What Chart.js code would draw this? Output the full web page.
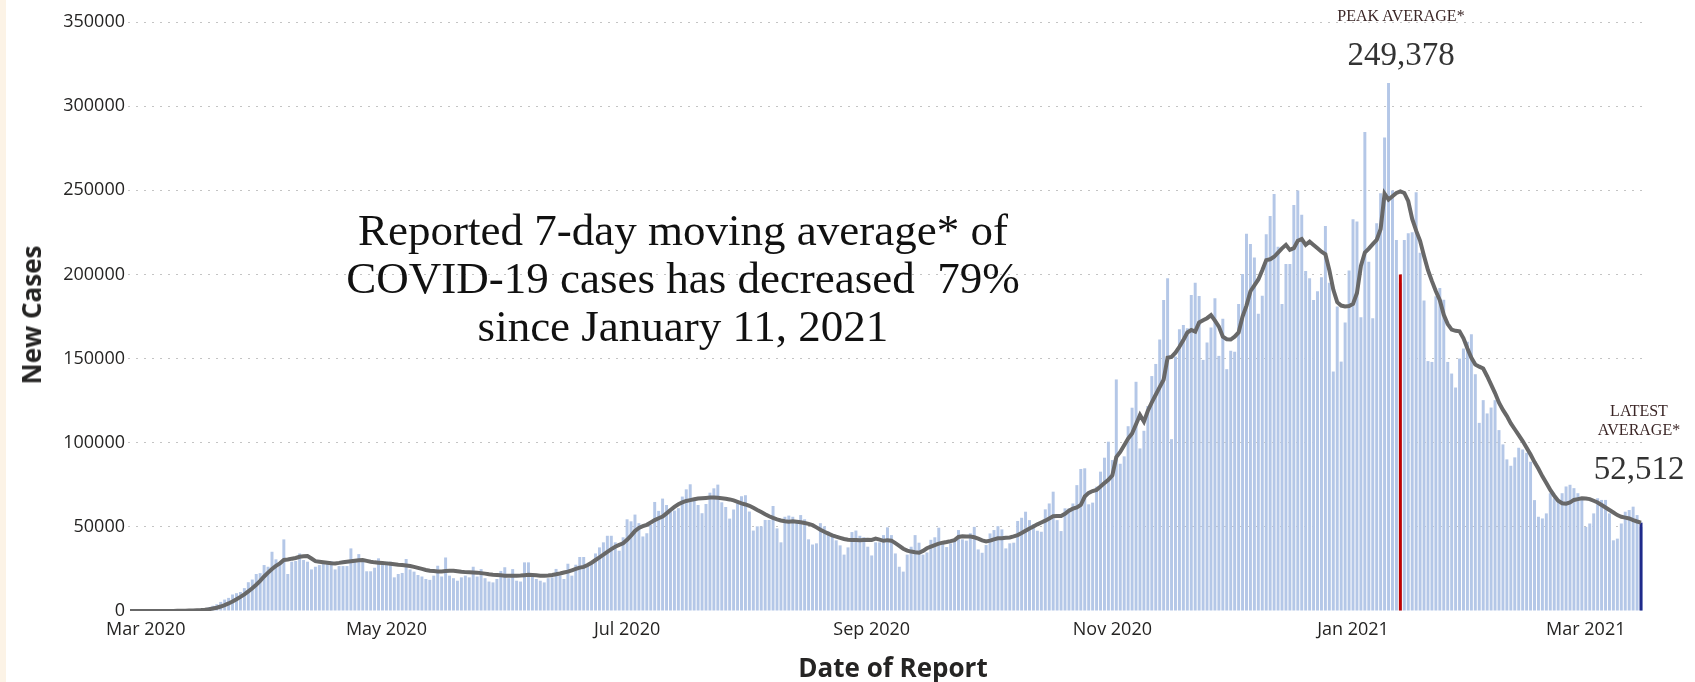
<!DOCTYPE html>
<html>
<head>
<meta charset="utf-8">
<title>COVID-19 new cases</title>
<script src="https://cdn.jsdelivr.net/npm/chart.js@4.4.1/dist/chart.umd.min.js"></script>
<style>
  html, body { margin: 0; padding: 0; background: #fff; }
  #wrap { position: relative; width: 1695px; height: 682px; overflow: hidden; }
  #chart { position: absolute; left: 0; top: 0; }
  #strip { position: absolute; left: 0; top: 0; width: 6px; height: 682px; background: #fcf3e6; }
  .note { position: absolute; font-family: "Liberation Serif", serif; white-space: nowrap;
          transform: translateX(-50%); text-align: center; }
  #headline { left: 683px; top: 206px; font-size: 45px; line-height: 48px; color: #111; }
  #peakLabel { left: 1401px; top: 8px; font-size: 16px; line-height: 16px; color: #3b2626; }
  #peakValue { left: 1401px; top: 38px; font-size: 33px; line-height: 32px; color: #333; }
  #latestLabel { left: 1639px; top: 401px; font-size: 16px; line-height: 19px; color: #3b2626; }
  #latestValue { left: 1639px; top: 452px; font-size: 33px; line-height: 32px; color: #333; }
  .axisTitle { position: absolute; font-family: "Open Sans", "Noto Sans", sans-serif; font-weight: bold;
               font-size: 26px; line-height: 30px; color: #252423; white-space: nowrap; }
  #xTitle { left: 893px; top: 652px; transform: translateX(-50%); }
  #yTitle { left: 31px; top: 315px; transform: translate(-50%, -50%) rotate(-90deg); }
</style>
</head>
<body>
<div id="wrap">
  <canvas id="chart" width="1695" height="682"></canvas>
  <div id="strip"></div>
  <div class="note" id="headline">Reported 7-day moving average* of<br>COVID-19 cases has decreased&nbsp; 79%<br>since January 11, 2021</div>
  <div class="note" id="peakLabel">PEAK AVERAGE*</div>
  <div class="note" id="peakValue">249,378</div>
  <div class="note" id="latestLabel">LATEST<br>AVERAGE*</div>
  <div class="note" id="latestValue">52,512</div>
  <div class="axisTitle" id="xTitle">Date of Report</div>
  <div class="axisTitle" id="yTitle">New Cases</div>
</div>
<script>
// ==============================
// Data (one value per day of report, starting Feb 26, 2020)
// ==============================

const startDate = "2020-02-26";

const dailyCases = [
  // 0-29
  0, 0, 0, 0, 10, 20, 30, 35, 50, 80,
  120, 160, 250, 350, 480, 600, 780, 1100, 1300, 1700,
  2300, 3100, 4000, 5400, 6800, 7800, 9800, 10600, 11300, 13600,
  // 30-59
  17100, 18700, 22000, 22500, 27300, 26300, 35200, 30700, 28700, 42550,
  22000, 29300, 29700, 34200, 30300, 29300, 24700, 26300, 27300, 29700,
  29300, 29700, 24700, 26700, 26700, 26700, 37200, 29300, 33800, 30300,
  // 60-89
  23600, 23600, 25700, 31300, 29300, 29300, 29300, 20000, 22000, 22600,
  30900, 24700, 23400, 21400, 20500, 19000, 18500, 21000, 26900, 20500,
  31800, 21000, 19500, 18000, 20000, 21000, 20000, 26300, 20500, 24900,
  // 90-119
  19500, 17500, 17000, 19000, 23800, 26000, 19500, 24900, 18000, 17500,
  28900, 28900, 20500, 19000, 18000, 17000, 19500, 20000, 25000, 21000,
  19000, 28100, 21000, 27500, 32100, 32100, 27500, 29300, 34200, 37800,
  // 120-149
  40800, 44700, 44700, 40800, 35800, 43800, 54500, 53300, 57300, 52200,
  44300, 46200, 51200, 64800, 59500, 66800, 63000, 59100, 59700, 61100,
  68000, 72300, 75300, 66000, 63000, 58100, 63600, 70300, 72900, 75100,
  // 150-179
  64600, 61800, 54900, 60300, 64000, 68200, 68800, 59100, 47800, 50300,
  50300, 54100, 54100, 62400, 49100, 40800, 56000, 56700, 56000, 53100,
  57000, 54500, 42600, 39500, 40200, 52200, 50300, 47300, 44300, 42000,
  // 180-209
  39000, 33500, 37800, 46900, 47800, 44700, 43800, 38200, 33000, 40800,
  40800, 45100, 49700, 45100, 34200, 26300, 23400, 33500, 38200, 45100,
  40600, 33500, 34800, 42300, 43800, 49500, 39700, 38000, 40200, 41800,
  // 210-239
  48100, 42600, 41800, 46200, 50000, 36600, 34600, 39200, 46100, 48100,
  50400, 48500, 37200, 40200, 40600, 53500, 55400, 59000, 54000, 51600,
  47700, 47100, 60400, 63900, 70900, 54000, 47500, 61000, 61000, 63900,
  // 240-269
  74800, 84400, 84800, 63400, 64400, 73900, 82800, 91100, 100600, 89700,
  137600, 87500, 91900, 109800, 120800, 136200, 96600, 107100, 121800, 139600,
  146800, 161400, 184800, 197700, 102100, 151200, 167400, 170000, 168000, 187800,
  // 270-299
  195100, 187200, 149200, 159500, 168400, 185800, 151600, 173600, 143700, 154600,
  154000, 182500, 200300, 224100, 218100, 210000, 176600, 187400, 223900, 234700,
  247800, 216500, 182500, 206200, 206200, 241300, 249800, 235400, 202100, 197700,
  // 300-329
  184800, 190000, 198300, 228800, 195100, 142300, 180900, 148200, 171400, 202300,
  232800, 231400, 174600, 284700, 207600, 174000, 230400, 248200, 281400, 313800,
  249800, 220500, 195000, 220500, 224500, 225100, 248800, 212900, 184500, 148500,
  // 330-359
  148000, 187000, 192000, 185000, 148000, 141100, 132800, 150000, 156000, 160000,
  164500, 140700, 111800, 125300, 117400, 120900, 125300, 107500, 99000, 90100,
  86300, 91300, 97000, 96000, 94000, 88700, 65900, 56000, 55000, 58000,
  // 360-383
  70000, 67000, 66000, 70000, 74000, 75000, 73000, 70000, 66000, 50000,
  52000, 58000, 67000, 66000, 66000, 58000, 42000, 43000, 52000, 59000,
  60000, 62000, 57000, 50000
];

const movingAverage = [
  // 0-29
  0, 0, 0, 0, 2, 5, 8, 12, 18, 28,
  42, 60, 85, 120, 170, 230, 310, 420, 560, 760,
  1050, 1450, 1950, 2650, 3500, 4500, 5700, 7000, 8400, 9900,
  // 30-59
  11700, 13500, 15600, 17900, 20500, 22800, 25000, 26800, 28300, 30300,
  30600, 31100, 31500, 32200, 32500, 32700, 31200, 29600, 29300, 29000,
  28700, 28400, 28300, 28600, 29000, 29300, 29600, 29900, 30200, 30300,
  // 60-89
  29800, 29300, 28900, 28700, 28500, 28300, 28100, 27800, 27500, 27300,
  27000, 26700, 26200, 25600, 25000, 24400, 23900, 23700, 23500, 23500,
  23700, 23900, 23900, 23600, 23300, 23100, 23000, 22900, 22800, 22500,
  // 90-119
  22200, 21800, 21500, 21400, 21200, 21000, 20900, 20900, 21000, 21100,
  21300, 21500, 21400, 21200, 21000, 20900, 21100, 21400, 21800, 22300,
  22900, 23400, 24200, 25000, 25800, 26200, 27300, 28700, 30300, 31900,
  // 120-149
  33500, 35200, 36800, 38200, 39300, 40200, 42300, 44800, 47500, 49400,
  50400, 51200, 52600, 54000, 55100, 56100, 58000, 60000, 61900, 63400,
  64500, 65400, 65900, 66400, 66800, 67000, 67200, 67400, 67500, 67300,
  // 150-179
  67000, 66700, 66300, 65700, 64900, 64000, 63300, 62500, 61300, 60000,
  58800, 57500, 56300, 55300, 54400, 53800, 53300, 53100, 53300, 53000,
  52700, 52300, 51800, 51000, 49700, 48300, 47100, 46000, 45000, 44200,
  // 180-209
  43500, 42800, 42300, 42200, 42200, 42100, 42200, 42300, 42200, 43000,
  42400, 41700, 42100, 41800, 40300, 38700, 37000, 35900, 35300, 34900,
  34600, 35700, 37300, 38300, 39200, 40000, 40600, 41000, 41500, 42100,
  // 210-239
  44000, 44400, 44300, 44200, 43800, 43000, 42000, 41300, 41800, 42600,
  43200, 43300, 43500, 43700, 44300, 45100, 46300, 47700, 49000, 50200,
  51500, 52600, 53700, 55000, 56300, 56400, 56500, 57800, 59600, 60800,
  // 240-269
  61500, 63000, 68000, 70200, 71300, 72000, 74000, 76000, 78000, 80600,
  91500, 94500, 98500, 102500, 105500, 111000, 116500, 112500, 119000, 124000,
  128500, 133000, 137500, 150500, 151000, 153500, 157000, 161000, 165500, 167000,
  // 270-299
  166000, 171500, 172800, 174000, 175800, 172500, 169000, 163000, 161500, 161300,
  163000, 165500, 175000, 181500, 190000, 193500, 197000, 202500, 208500, 209000,
  210500, 213000, 215500, 217600, 214600, 215600, 220000, 221000, 217600, 219500,
  // 300-329
  217500, 215500, 213500, 212000, 202500, 191000, 183500, 181500, 181000, 181200,
  182500, 189000, 205000, 213000, 215300, 218000, 220500, 227000, 248000, 244500,
  246500, 248400, 249378, 248400, 243500, 233000, 226000, 220000, 211000, 202500,
  // 330-359
  196000, 190000, 184700, 176000, 170500, 167200, 166500, 166200, 162000, 156000,
  150500, 146500, 145200, 144100, 139500, 134500, 129500, 123800, 119500, 115800,
  111500, 108000, 104500, 101000, 97000, 93000, 88500, 84500, 80000, 76000,
  // 360-383
  72000, 68500, 65500, 64000, 63800, 64500, 66000, 66500, 67000, 66800,
  66500, 65500, 64500, 63000, 61500, 60000, 58500, 57000, 56000, 55500,
  55000, 54000, 53200, 52512
];

// Markers: red line at the peak day, dark blue at the latest day
const peakIndex = 322;
const peakMarkerValue = 200000;
const latestAverage = 52512;

// Axis ticks
const tickDates = ["2020-03-01", "2020-05-01", "2020-07-01", "2020-09-01", "2020-11-01", "2021-01-01", "2021-03-01"];
const tickLabels = ["Mar 2020", "May 2020", "Jul 2020", "Sep 2020", "Nov 2020", "Jan 2021", "Mar 2021"];
const yMax = 350000;
const yStep = 50000;

// -----------------------------
// Build categories (one per day)
// -----------------------------

const t0 = Date.parse(startDate + "T00:00:00Z");
const days = dailyCases.map((_, i) => new Date(t0 + i * 86400000).toISOString().slice(0, 10));

const markerValues = dailyCases.map(() => null);
markerValues[peakIndex] = peakMarkerValue;
markerValues[days.length - 1] = latestAverage;

const markerColors = days.map((_, i) => (i === peakIndex ? "#c00000" : "#1f2a8a"));

// -----------------------------
// Chart
// -----------------------------

const tickFont = { family: "'Open Sans', 'Noto Sans', sans-serif", size: 18 };

new Chart(document.getElementById("chart"), {
  data: {
    labels: days,
    datasets: [
      {
        type: "line",
        label: "7-day moving average",
        data: movingAverage,
        borderColor: "#686868",
        borderWidth: 4,
        pointRadius: 0,
        tension: 0,
        order: 0
      },
      {
        type: "bar",
        label: "Marker",
        data: markerValues,
        backgroundColor: markerColors,
        grouped: false,
        barPercentage: 0.75,
        categoryPercentage: 1,
        order: 1
      },
      {
        type: "bar",
        label: "New Cases",
        data: dailyCases,
        backgroundColor: "#b4c7e7",
        grouped: false,
        barPercentage: 0.75,
        categoryPercentage: 1,
        order: 2
      }
    ]
  },
  options: {
    responsive: false,
    animation: false,
    layout: { padding: { left: 0, right: 52, top: 22, bottom: 0 } },
    plugins: {
      legend: { display: false },
      tooltip: { enabled: false }
    },
    scales: {
      x: {
        type: "category",
        grid: { display: false, drawTicks: false },
        border: { display: false },
        ticks: {
          autoSkip: false,
          maxRotation: 0,
          minRotation: 0,
          padding: 8,
          color: "#252423",
          font: tickFont,
          callback: function (value, index) {
            const k = tickDates.indexOf(days[index]);
            return k >= 0 ? tickLabels[k] : "";
          }
        },
        afterFit: (scale) => { scale.height = 71; }
      },
      y: {
        min: 0,
        max: yMax,
        grid: {
          drawTicks: false,
          color: (ctx) => (ctx.tick && ctx.tick.value === 0 ? "rgba(0,0,0,0)" : "#c4c4c4"),
          lineWidth: 1
        },
        border: { display: false, dash: [2, 6] },
        ticks: {
          stepSize: yStep,
          padding: 3,
          color: "#252423",
          font: tickFont,
          callback: (v) => String(v)
        },
        afterFit: (scale) => { scale.width = 128; }
      }
    }
  }
});
</script>
</body>
</html>
